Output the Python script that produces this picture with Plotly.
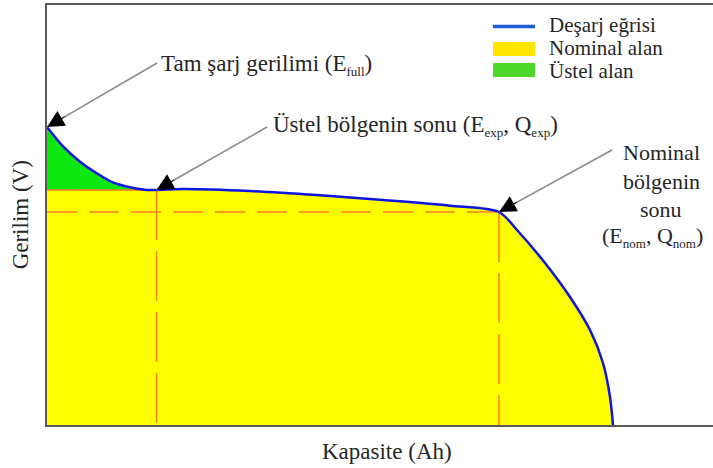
import math
import plotly.graph_objects as go

# Battery discharge curve: capacity (Ah) vs terminal voltage (V), arbitrary units
capacity = [0.0, 0.163, 0.33, 0.497, 0.663, 0.83, 0.997, 1.095,
            1.36, 2.03, 2.70, 3.36, 4.03, 4.52,
            4.70, 4.98, 5.23, 5.43, 5.56, 5.63, 5.66]
voltage = [2.98, 2.783, 2.633, 2.517, 2.423, 2.377, 2.35, 2.35,
           2.36, 2.34, 2.30, 2.25, 2.193, 2.13,
           1.95, 1.62, 1.28, 0.95, 0.62, 0.28, 0.0]

# characteristic points (indices into the curve)
i_exp = 7    # end of exponential zone
i_nom = 13   # end of nominal zone

Q_exp, E_exp = capacity[i_exp], voltage[i_exp]
Q_nom, E_nom = capacity[i_nom], voltage[i_nom]
Q_full, E_full = capacity[0], voltage[0]

legend_labels = ["Deşarj eğrisi", "Nominal alan", "Üstel alan"]

FONT = "Liberation Serif, Times New Roman, serif"
TXT = "#262626"
BLUE = "#0c14e6"
YELLOW = "#ffff00"
GREEN = "#0ee80e"
ORANGE = "#fa7d1e"
ARROW_GRAY = "#8a8a8a"

W, H = 713, 468
ML, MR, MT, MB = 47, 0, 5, 43
X_MAX, Y_MAX = 6.66, 4.2
# screen pixels per data unit along each axis
KX = (W - ML - MR) / X_MAX
KY = (H - MT - MB) / Y_MAX

fig = go.Figure()

# exponential zone (green), filled down to the axis and later covered by yellow
fig.add_trace(go.Scatter(
    x=capacity[:i_exp + 2], y=voltage[:i_exp + 2], mode="lines",
    line=dict(width=0, shape="spline", color=GREEN),
    fill="tozeroy", fillcolor=GREEN, hoverinfo="skip", showlegend=False))

# nominal zone (yellow): flat at E_exp up to Q_exp, then under the curve
fig.add_trace(go.Scatter(
    x=[0.0] + capacity[i_exp:], y=[E_exp] + voltage[i_exp:], mode="lines",
    line=dict(width=0, shape="spline", color=YELLOW),
    fill="tozeroy", fillcolor=YELLOW, hoverinfo="skip", showlegend=False))

# boundary between exponential and nominal zones
fig.add_trace(go.Scatter(
    x=[0.0, Q_exp], y=[E_exp, E_exp], mode="lines",
    line=dict(color=ORANGE, width=1.5), hoverinfo="skip", showlegend=False))

# reference lines for Q_exp and the nominal point
fig.add_trace(go.Scatter(
    x=[Q_exp, Q_exp], y=[E_exp, 0.0], mode="lines",
    line=dict(color=ORANGE, width=1.5, dash="50px,11px"),
    hoverinfo="skip", showlegend=False))
fig.add_trace(go.Scatter(
    x=[Q_nom, Q_nom], y=[E_nom, 0.0], mode="lines",
    line=dict(color=ORANGE, width=1.5, dash="50px,11px"),
    hoverinfo="skip", showlegend=False))
fig.add_trace(go.Scatter(
    x=[0.0, Q_nom], y=[E_nom, E_nom], mode="lines",
    line=dict(color=ORANGE, width=1.5, dash="30px,12px"),
    hoverinfo="skip", showlegend=False))

# discharge curve
fig.add_trace(go.Scatter(
    x=capacity, y=voltage, mode="lines",
    line=dict(color=BLUE, width=2.5, shape="spline", smoothing=0.8),
    name=legend_labels[0], hoverinfo="skip", showlegend=False))

annotations = []
HEAD_SHAFT = 22.0   # px of shaft carried by the black head annotation


def pointer(tail_x, tail_y, tip_x, tip_y):
    """Gray leader line from a label to a point, ending in a black arrowhead."""
    fig.add_trace(go.Scatter(
        x=[tail_x, tip_x], y=[tail_y, tip_y], mode="lines",
        line=dict(color=ARROW_GRAY, width=1.5),
        hoverinfo="skip", showlegend=False))
    # direction tip -> tail on screen (y downward) for the head annotation
    vx = (tail_x - tip_x) * KX
    vy = -(tail_y - tip_y) * KY
    n = math.hypot(vx, vy)
    annotations.append(dict(
        x=tip_x, y=tip_y, xref="x", yref="y",
        ax=vx / n * HEAD_SHAFT, ay=vy / n * HEAD_SHAFT,
        text="", showarrow=True, arrowhead=2, arrowsize=3.4,
        arrowwidth=1, arrowcolor="black"))


pointer(1.10, 3.62, Q_full, E_full)
pointer(2.20, 2.98, Q_exp, E_exp)
pointer(5.65, 2.75, Q_nom, E_nom)


def label(text, x, y, size=23, xanchor="left", align="left"):
    annotations.append(dict(
        x=x, y=y, xref="x", yref="y", text=text, showarrow=False,
        xanchor=xanchor, yanchor="middle", align=align,
        font=dict(family=FONT, size=size, color=TXT)))


def sub(s):
    return '<sub><span style="font-size:13px">' + s + '</span></sub>'


label("Tam şarj gerilimi (E" + sub("full") + ")", 1.12, 3.60)
label("Üstel bölgenin sonu (E" + sub("exp") + ", Q" + sub("exp") + ")",
      2.24, 2.99)
label("Nominal", 6.14, 2.73, size=22, xanchor="center", align="center")
label("bölgenin", 6.14, 2.44, size=22, xanchor="center", align="center")
label("sonu", 6.14, 2.16, size=22, xanchor="center", align="center")
label("(E" + sub("nom") + ", Q" + sub("nom") + ")", 6.05, 1.88, size=22,
      xanchor="center", align="center")

# axis titles
annotations.append(dict(
    x=0.51, y=-0.062, xref="paper", yref="paper", text="Kapasite (Ah)",
    showarrow=False, xanchor="center", yanchor="middle",
    font=dict(family=FONT, size=23, color=TXT)))
annotations.append(dict(
    x=-0.04, y=0.5, xref="paper", yref="paper", text="Gerilim (V)",
    textangle=-90, showarrow=False, xanchor="center", yanchor="middle",
    font=dict(family=FONT, size=23, color=TXT)))


# legend drawn in pixel space of the figure
def px_x(p):
    return (p - ML) / (W - ML - MR)


def px_y(p):
    return (H - MB - p) / (H - MT - MB)


shapes = [
    dict(type="line", xref="paper", yref="paper",
         x0=px_x(493), x1=px_x(535), y0=px_y(26.5), y1=px_y(26.5),
         line=dict(color="#1e5bd8", width=3.5)),
    dict(type="rect", xref="paper", yref="paper",
         x0=px_x(493), x1=px_x(535), y0=px_y(56), y1=px_y(42),
         fillcolor="#ffe600", line=dict(width=0)),
    dict(type="rect", xref="paper", yref="paper",
         x0=px_x(493), x1=px_x(535), y0=px_y(77), y1=px_y(63),
         fillcolor="#4fd82c", line=dict(width=0)),
]
for txt, py in zip(legend_labels, [25, 48, 71]):
    annotations.append(dict(
        x=px_x(547), y=px_y(py), xref="paper", yref="paper", text=txt,
        showarrow=False, xanchor="left", yanchor="middle",
        font=dict(family=FONT, size=21, color=TXT)))

fig.update_layout(
    width=W, height=H,
    margin=dict(l=ML, r=MR, t=MT, b=MB),
    paper_bgcolor="white", plot_bgcolor="white",
    showlegend=False,
    xaxis=dict(range=[0, X_MAX], showgrid=False, zeroline=False,
               showticklabels=False, ticks="", showline=True,
               linecolor="#5a5a5a", linewidth=2, mirror=True),
    yaxis=dict(range=[0, Y_MAX], showgrid=False, zeroline=False,
               showticklabels=False, ticks="", showline=True,
               linecolor="#5a5a5a", linewidth=2),
    annotations=annotations,
    shapes=shapes,
)

fig.write_html("out.html")
